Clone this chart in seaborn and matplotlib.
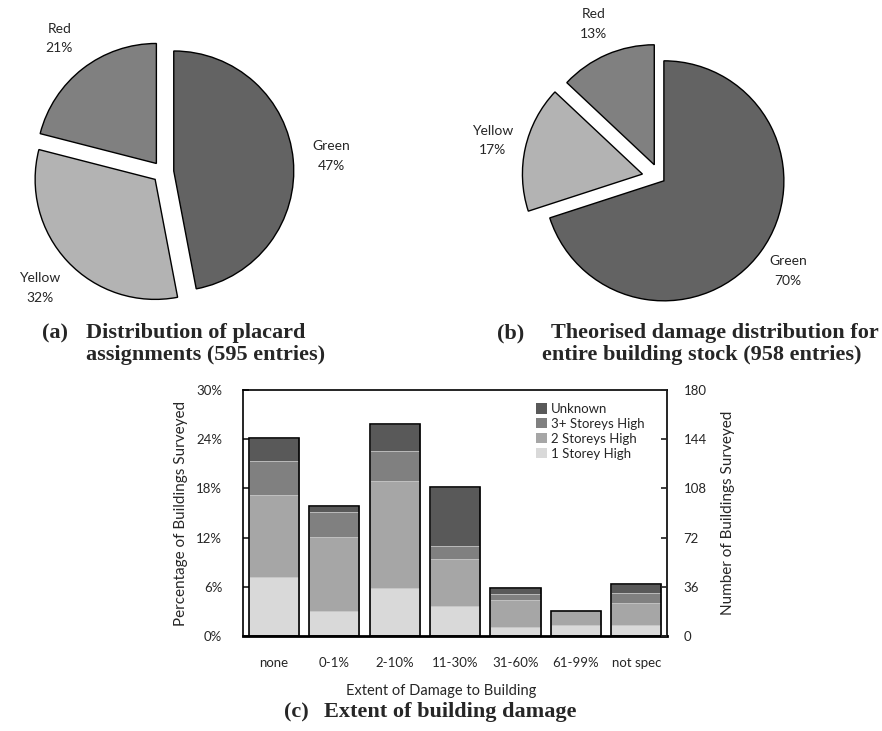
import numpy as np
import pandas as pd
import matplotlib
matplotlib.use("Agg")
import matplotlib.pyplot as plt
from matplotlib.patches import Patch
from matplotlib.ticker import FuncFormatter
import seaborn as sns

# pie data
placard_labels = ["Green", "Yellow", "Red"]
placard_pct = [47, 32, 21]
theory_labels = ["Green", "Yellow", "Red"]
theory_pct = [70, 17, 13]
pie_colors = ["#636363", "#b3b3b3", "#808080"]

# stacked bar data (percent of buildings surveyed)
damage_cats = ["none", "0-1%", "2-10%", "11-30%", "31-60%", "61-99%", "not spec"]
one_storey = [7.2, 3.1, 5.8, 3.6, 1.1, 1.3, 1.3]
two_storey = [10.0, 9.0, 13.1, 5.8, 3.3, 1.7, 2.7]
three_storey = [4.1, 3.0, 3.7, 1.6, 0.7, 0.0, 1.3]
unknown = [2.9, 0.8, 3.3, 7.2, 0.7, 0.06, 1.0]

layer_names = ["1 Storey High", "2 Storeys High", "3+ Storeys High", "Unknown"]
layer_colors = ["#d9d9d9", "#a6a6a6", "#808080", "#595959"]

sns.set_theme(style="white")
plt.rcParams["font.family"] = ["Lato", "DejaVu Sans"]

fig = plt.figure(figsize=(8.82, 7.31), dpi=100)
W, H = 882, 731


def px_axes(x0, y0, x1, y1):
    # axes from pixel box (top-left origin)
    return fig.add_axes([x0 / W, 1 - y1 / H, (x1 - x0) / W, (y1 - y0) / H])


def draw_pie(ax, vals, labels, explode, cx, cy, r, box, ld):
    x0, y0, x1, y1 = box
    ax.pie(vals, labels=[f"{l}\n{v}%" for l, v in zip(labels, vals)],
           colors=pie_colors, startangle=90, counterclock=False,
           explode=explode, labeldistance=ld,
           wedgeprops=dict(edgecolor="black", linewidth=1.0),
           textprops=dict(fontsize=10, ha="center", va="center", linespacing=1.75))
    for t in ax.texts:
        t.set_ha("center")
    ax.set_xlim((x0 - cx) / r, (x1 - cx) / r)
    ax.set_ylim((cy - y1) / r, (cy - y0) / r)
    ax.set_aspect("equal")
    ax.axis("off")


ax_a = px_axes(0, 15, 400, 315)
draw_pie(ax_a, placard_pct, placard_labels, [0.09, 0.09, 0.09], 163, 172, 120,
         (0, 15, 400, 315), 1.32)

ax_b = px_axes(460, 15, 882, 315)
draw_pie(ax_b, theory_pct, theory_labels, [0.04, 0.15, 0.12], 660, 178, 120,
         (460, 15, 882, 315), 1.28)

serif = dict(family=["Liberation Serif", "DejaVu Serif"], weight="bold", fontsize=16)
fig.text(42 / W, 1 - 333 / H, "(a)", va="center", ha="left", **serif)
fig.text(86 / W, 1 - 333 / H, "Distribution of placard", va="center", ha="left", **serif)
fig.text(86 / W, 1 - 355 / H, "assignments (595 entries)", va="center", ha="left", **serif)
fig.text(497 / W, 1 - 333 / H, "(b)", va="center", ha="left", **serif)
fig.text(551 / W, 1 - 333 / H, "Theorised damage distribution for", va="center", ha="left", **serif)
fig.text(542 / W, 1 - 355 / H, "entire building stock (958 entries)", va="center", ha="left", **serif)
fig.text(284 / W, 1 - 712 / H, "(c)", va="center", ha="left", **serif)
fig.text(324 / W, 1 - 712 / H, "Extent of building damage", va="center", ha="left", **serif)

# bar chart
ax = px_axes(243, 390, 667, 636)
df = pd.DataFrame({"damage": damage_cats, "l1": one_storey, "l2": two_storey,
                   "l3": three_storey, "l4": unknown})
df["c1"] = df["l1"]
df["c2"] = df["c1"] + df["l2"]
df["c3"] = df["c2"] + df["l3"]
df["c4"] = df["c3"] + df["l4"]

for col, c in zip(["c4", "c3", "c2", "c1"], layer_colors[::-1]):
    sns.barplot(data=df, x="damage", y=col, color=c, width=0.83, ax=ax,
                edgecolor="#c8c8c8", linewidth=0.6, saturation=1)
sns.barplot(data=df, x="damage", y="c4", fill=False, color="black", width=0.83,
            ax=ax, linewidth=1.2)

ax.set_ylim(0, 30)
ax.set_yticks(np.arange(0, 31, 6))
ax.yaxis.set_major_formatter(FuncFormatter(lambda v, p: f"{v:.0f}%"))
ax.set_xlim(-0.514, 6.51)
ax.set_xlabel("Extent of Damage to Building", fontsize=10.5, labelpad=8)
ax.xaxis.set_label_coords((441 - 243) / 424, -0.195)
ax.set_ylabel("Percentage of Buildings Surveyed", fontsize=11, labelpad=6)
ax.tick_params(axis="y", direction="in", length=4, labelsize=9.5, pad=15, left=True)
ax.tick_params(axis="x", length=0, labelsize=9.5, pad=15)
for s in ax.spines.values():
    s.set_visible(True)
    s.set_color("black")
    s.set_linewidth(1.2)
ax.spines["bottom"].set_linewidth(2)

ax2 = ax.twinx()
ax2.set_ylim(0, 180)
ax2.set_yticks(np.arange(0, 181, 36))
ax2.tick_params(axis="y", direction="in", length=4, labelsize=9.5, pad=12, right=True)
ax2.set_ylabel("Number of Buildings Surveyed", fontsize=11, labelpad=10)
for s in ax2.spines.values():
    s.set_visible(False)

handles = [Patch(facecolor=c, edgecolor="none") for c in layer_colors[::-1]]
ax.legend(handles, layer_names[::-1], loc="upper right", frameon=False,
          fontsize=9.5, handlelength=0.8, handleheight=0.8, handletextpad=0.3,
          labelspacing=0.22, bbox_to_anchor=(0.975, 0.995))

fig.savefig("out.png", dpi=100)
